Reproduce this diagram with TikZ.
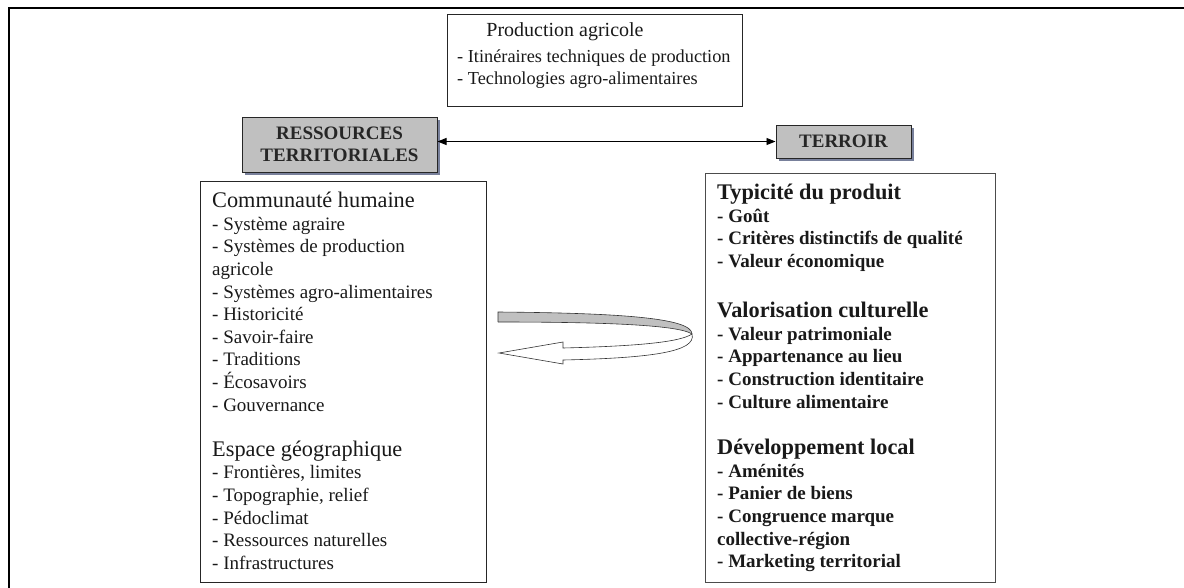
\documentclass[tikz,border=0pt]{standalone}
\usepackage{fontspec}
\setmainfont{Liberation Serif}
\usetikzlibrary{arrows.meta,shadows}
\definecolor{shadowc}{RGB}{120,128,155}
\definecolor{boxgray}{RGB}{192,192,192}
\newcommand\bodyf{\fontsize{19}{22.6}\selectfont}
\newcommand\headf{\fontsize{22.3}{22.6}\selectfont}
\tikzset{
  box/.style={draw=black!85, line width=0.9pt, inner sep=0pt},
  graybox/.style={draw=black!85, line width=1pt, fill=boxgray, inner sep=0pt,
    drop shadow={shadow xshift=3pt, shadow yshift=-3pt, fill=shadowc, opacity=1}},
  txt/.style={inner sep=0pt, align=left, anchor=north west, text=black!90, font=\bodyf},
  frame/.style={draw=black, line width=1.6pt},
  ribbon/.style={draw=black!80, line width=0.6pt},
}
\begin{document}
\begin{tikzpicture}[x=1pt,y=-1pt]
\useasboundingbox (0,0) rectangle (1184,587);
% outer frame (only top and left edges visible)
\draw[frame] (9,600) -- (9,8) -- (1200,8);

% production box
\node[box, minimum width=295pt, minimum height=92pt] (prod) at (594.5,60) {};
\node[txt, anchor=center, font=\fontsize{20}{22}\selectfont] (prodh) at (565,32) {Production agricole};
\node[txt, font=\fontsize{18.3}{22}\selectfont] (prodt) at (457,50) {- Itinéraires techniques de production\\- Technologies agro-alimentaires};

% gray boxes
\node[graybox, minimum width=195pt, minimum height=55pt, align=center, font=\fontsize{19}{21.5}\selectfont\bfseries, text=black!85] (res) at (339.5,144.5) {RESSOURCES\\TERRITORIALES};
\node[graybox, minimum width=135pt, minimum height=33pt, font=\bodyf\bfseries, text=black!85] (ter) at (843.5,141.5) {TERROIR};

\draw[line width=0.9pt, {Triangle[length=9pt,width=7pt]}-{Triangle[length=9pt,width=7pt]}] (res.east |- ter.west) -- (ter.west);

% left box
\node[box, minimum width=286pt, minimum height=401pt] (left) at (343,381.5) {};
\node[txt] (leftt) at (212,192) {{\headf Communauté humaine}\\
- Système agraire\\
- Systèmes de production\\
agricole\\
- Systèmes agro-alimentaires\\
- Historicité\\
- Savoir-faire\\
- Traditions\\
- Écosavoirs\\
- Gouvernance\\[22.6pt]
{\headf Espace géographique}\\
- Frontières, limites\\
- Topographie, relief\\
- Pédoclimat\\
- Ressources naturelles\\
- Infrastructures};

% right box
\node[box, draw=black!70, minimum width=290pt, minimum height=409pt] (right) at (850,377.5) {};
\node[txt, font=\bodyf\bfseries] (rightt) at (717,184) {{\headf Typicité du produit}\\
- Goût\\
- Critères distinctifs de qualité\\
- Valeur économique\\[27.5pt]
{\headf Valorisation culturelle}\\
- Valeur patrimoniale\\
- Appartenance au lieu\\
- Construction identitaire\\
- Culture alimentaire\\[24pt]
{\headf Développement local}\\
- Aménités\\
- Panier de biens\\
- Congruence marque\\
collective-région\\
- Marketing territorial};

% curved ribbon arrow
\fill[boxgray] (498,312) .. controls (620,313) and (692,318) .. (692,334)
  .. controls (680,326) and (620,322) .. (498,322) -- cycle;
\draw[ribbon] (498,322) -- (498,312) .. controls (620,313) and (692,318) .. (692,334);
\draw[ribbon] (498,322) .. controls (620,322) and (680,326) .. (692,334);
\filldraw[ribbon, fill=white] (692,334) .. controls (680,342) and (640,346) .. (563,348)
  -- (563,342) -- (499,353) -- (563,364) -- (563,360)
  .. controls (650,358) and (697,352) .. (692,334) -- cycle;
\end{tikzpicture}
\end{document}
